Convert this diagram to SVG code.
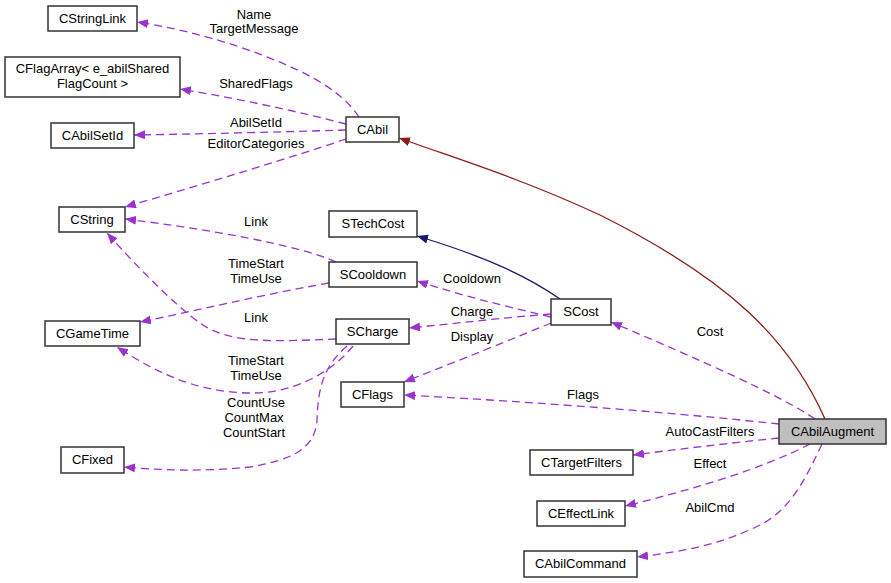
<svg xmlns="http://www.w3.org/2000/svg" width="891" height="583" viewBox="0 0 891 583">
<defs>
<style>
.n rect{fill:#fff;stroke:#333;stroke-width:1.5}
.n.hl rect{fill:#bfbfbf}
text{font-family:"Liberation Sans",Arial,sans-serif;font-size:13px;fill:#000}
.n text{text-anchor:middle}
.lbl{text-anchor:middle}
.e{fill:none;stroke:#9a32cd;stroke-width:1.3;stroke-dasharray:8,5}
.red{fill:none;stroke:#8b1a1a;stroke-width:1.3}
.blue{fill:none;stroke:#191970;stroke-width:1.3}
</style>
<marker id="ap" markerUnits="userSpaceOnUse" markerWidth="12" markerHeight="10" refX="11" refY="4.5" orient="auto"><path d="M0,0 L11,4.5 L0,9 z" fill="#9a32cd"/></marker>
<marker id="ar" markerUnits="userSpaceOnUse" markerWidth="12" markerHeight="10" refX="11" refY="4.5" orient="auto"><path d="M0,0 L11,4.5 L0,9 z" fill="#8b1a1a"/></marker>
<marker id="ab" markerUnits="userSpaceOnUse" markerWidth="12" markerHeight="10" refX="11" refY="4.5" orient="auto"><path d="M0,0 L11,4.5 L0,9 z" fill="#191970"/></marker>
</defs>
<rect width="891" height="583" fill="#fff"/>
<g id="edges">
<path class="e" marker-end="url(#ap)" d="M359,117 C340,88 300,68 240,47 C200,34 170,27 137,22"/>
<path class="e" marker-end="url(#ap)" d="M346,124 C300,112 240,99 180,89"/>
<path class="e" marker-end="url(#ap)" d="M346,130 C280,132 200,134 134,135"/>
<path class="e" marker-end="url(#ap)" d="M346,139 C290,158 200,185 125,207"/>
<path class="red" marker-end="url(#ar)" d="M825,419 C790,340 730,280 600,215 C520,178 460,160 399,138"/>
<path class="blue" marker-end="url(#ab)" d="M560,299 C530,278 490,258 417,236"/>
<path class="e" marker-end="url(#ap)" d="M551,317 C500,305 460,295 417,281"/>
<path class="e" marker-end="url(#ap)" d="M551,314 C500,318 460,323 409,328"/>
<path class="e" marker-end="url(#ap)" d="M551,323 C510,340 460,360 404,382"/>
<path class="e" marker-end="url(#ap)" d="M815,419 C780,395 700,360 611,322"/>
<path class="e" marker-end="url(#ap)" d="M779,424 C650,410 500,400 404,395"/>
<path class="e" marker-end="url(#ap)" d="M779,438 C730,443 680,449 633,455"/>
<path class="e" marker-end="url(#ap)" d="M810,444 C760,470 690,490 625,506"/>
<path class="e" marker-end="url(#ap)" d="M822,444 C805,480 790,510 760,525 C720,545 680,552 637,557"/>
<path class="e" marker-end="url(#ap)" d="M336,262 C300,245 200,228 125,219"/>
<path class="e" marker-end="url(#ap)" d="M329,283 C260,295 200,310 140,322"/>
<path class="e" marker-end="url(#ap)" d="M336,339 C280,341 230,345 200,323 C175,305 140,270 107,233"/>
<path class="e" marker-end="url(#ap)" d="M353,346 C330,375 290,393 253,393 C200,393 160,375 117,347"/>
<path class="e" marker-end="url(#ap)" d="M347,346 C325,365 318,385 317,420 C315,450 290,460 250,467 C200,472 160,470 124,467"/>
<text class="lbl" x="254" y="19">Name</text>
<text class="lbl" x="254" y="33">TargetMessage</text>
<text class="lbl" x="256" y="88">SharedFlags</text>
<text class="lbl" x="256" y="127">AbilSetId</text>
<text class="lbl" x="256" y="148">EditorCategories</text>
<text class="lbl" x="256" y="226">Link</text>
<text class="lbl" x="256" y="268">TimeStart</text>
<text class="lbl" x="256" y="283">TimeUse</text>
<text class="lbl" x="256" y="322">Link</text>
<text class="lbl" x="256" y="365">TimeStart</text>
<text class="lbl" x="256" y="380">TimeUse</text>
<text class="lbl" x="256" y="407">CountUse</text>
<text class="lbl" x="254" y="422">CountMax</text>
<text class="lbl" x="254" y="437">CountStart</text>
<text class="lbl" x="472" y="283">Cooldown</text>
<text class="lbl" x="472" y="316">Charge</text>
<text class="lbl" x="472" y="341">Display</text>
<text class="lbl" x="710" y="336">Cost</text>
<text class="lbl" x="583" y="399">Flags</text>
<text class="lbl" x="710" y="436">AutoCastFilters</text>
<text class="lbl" x="710" y="468">Effect</text>
<text class="lbl" x="710" y="512">AbilCmd</text>
</g>
<g id="CAbilAugment" class="n hl"><rect x="779" y="419" width="107" height="25"/><text x="832.5" y="436">CAbilAugment</text></g>
<g id="CAbil" class="n"><rect x="346" y="117" width="53" height="25"/><text x="372.5" y="134">CAbil</text></g>
<g id="CStringLink" class="n"><rect x="48" y="6" width="89" height="25"/><text x="92.5" y="23">CStringLink</text></g>
<g id="CFlagArray" class="n"><rect x="5" y="57" width="175" height="40"/><text x="92.5" y="73">CFlagArray&lt; e_abilShared</text><text x="92.5" y="88">FlagCount &gt;</text></g>
<g id="CAbilSetId" class="n"><rect x="51" y="123" width="83" height="25"/><text x="92.5" y="140">CAbilSetId</text></g>
<g id="CString" class="n"><rect x="59" y="207" width="66" height="25"/><text x="92" y="224">CString</text></g>
<g id="STechCost" class="n"><rect x="329" y="211" width="88" height="26"/><text x="373" y="228">STechCost</text></g>
<g id="SCooldown" class="n"><rect x="329" y="262" width="88" height="25"/><text x="373" y="279">SCooldown</text></g>
<g id="CGameTime" class="n"><rect x="45" y="321" width="95" height="25"/><text x="92.5" y="338">CGameTime</text></g>
<g id="SCharge" class="n"><rect x="336" y="319" width="73" height="25"/><text x="372.5" y="336">SCharge</text></g>
<g id="CFlags" class="n"><rect x="341" y="382" width="63" height="25"/><text x="372.5" y="399">CFlags</text></g>
<g id="CFixed" class="n"><rect x="61" y="447" width="63" height="26"/><text x="92.5" y="464">CFixed</text></g>
<g id="SCost" class="n"><rect x="551" y="299" width="60" height="26"/><text x="581" y="316">SCost</text></g>
<g id="CTargetFilters" class="n"><rect x="530" y="450" width="103" height="25"/><text x="581.5" y="467">CTargetFilters</text></g>
<g id="CEffectLink" class="n"><rect x="537" y="501" width="88" height="25"/><text x="581" y="518">CEffectLink</text></g>
<g id="CAbilCommand" class="n"><rect x="524" y="551" width="113" height="26"/><text x="580.5" y="568">CAbilCommand</text></g>
</svg>
